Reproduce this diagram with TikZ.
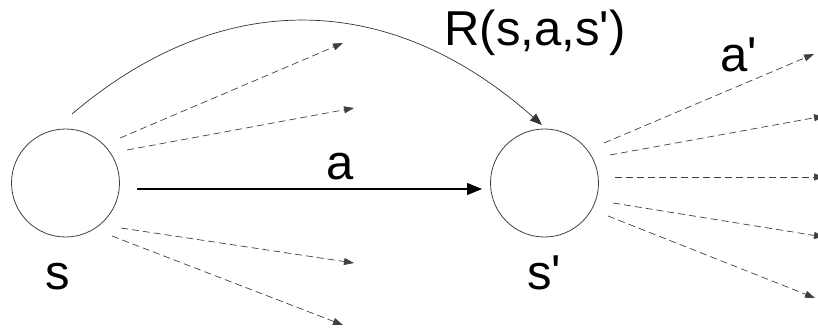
\documentclass[tikz,border=0pt]{standalone}
\usepackage{fontspec}
\setmainfont{Liberation Sans}
\usetikzlibrary{arrows.meta}
\newcommand{\pr}{\textquotesingle}
\begin{document}
\begin{tikzpicture}[x=1pt,y=-1pt,
  state/.style={circle,draw=black!75,line width=0.8pt,minimum size=108pt,inner sep=0pt},
  lbl/.style={font=\fontsize{49}{52}\selectfont,anchor=base,inner sep=0pt},
  mainarrow/.style={line width=1.1pt,-{Triangle[length=15pt,width=12pt]}},
  rarrow/.style={line width=0.7pt,draw=black!80,-{Triangle[length=12pt,width=9pt]}},
  dasharrow/.style={line width=0.7pt,draw=black!75,dash pattern=on 7pt off 4pt,-{Triangle[length=10pt,width=7pt]}}]
\useasboundingbox (0,0) rectangle (818,331);
\node[state] (s) at (65.5,183) {};
\node[state] (sp) at (544.5,183) {};
\node[lbl] (ls) at (58,289) {s};
\node[lbl] (lsp) at (544,289) {s\pr};
\node[lbl] (la) at (340,179) {a};
\node[lbl] (lap) at (739,72) {a\pr};
\node[lbl] (lr) at (535,46) {R(s,a,s\pr)};
% main action
\coordinate (m0) at (137,189);
\coordinate (m1) at (482,189);
\draw[mainarrow] (m0) -- (m1);
% reward curve
\coordinate (r0) at (72,114);
\coordinate (r1) at (542,125);
\draw[rarrow] (r0) .. controls (222,-13.5) and (390,-10) .. (r1);
% dashed arrows from s
\coordinate (a1s) at (120,138); \coordinate (a1e) at (343,43);
\coordinate (a2s) at (127,150); \coordinate (a2e) at (354,108);
\coordinate (a3s) at (121,228); \coordinate (a3e) at (354,263);
\coordinate (a4s) at (112,236); \coordinate (a4e) at (343,325);
\draw[dasharrow] (a1s) -- (a1e);
\draw[dasharrow] (a2s) -- (a2e);
\draw[dasharrow] (a3s) -- (a3e);
\draw[dasharrow] (a4s) -- (a4e);
% dashed arrows from s'
\coordinate (b1s) at (604,143); \coordinate (b1e) at (814,54);
\coordinate (b2s) at (610,155); \coordinate (b2e) at (824,116);
\coordinate (b3s) at (615,177); \coordinate (b3e) at (824,177);
\coordinate (b4s) at (613,203); \coordinate (b4e) at (824,237);
\coordinate (b5s) at (608,216); \coordinate (b5e) at (815,298);
\draw[dasharrow] (b1s) -- (b1e);
\draw[dasharrow] (b2s) -- (b2e);
\draw[dasharrow] (b3s) -- (b3e);
\draw[dasharrow] (b4s) -- (b4e);
\draw[dasharrow] (b5s) -- (b5e);
\end{tikzpicture}
\end{document}
